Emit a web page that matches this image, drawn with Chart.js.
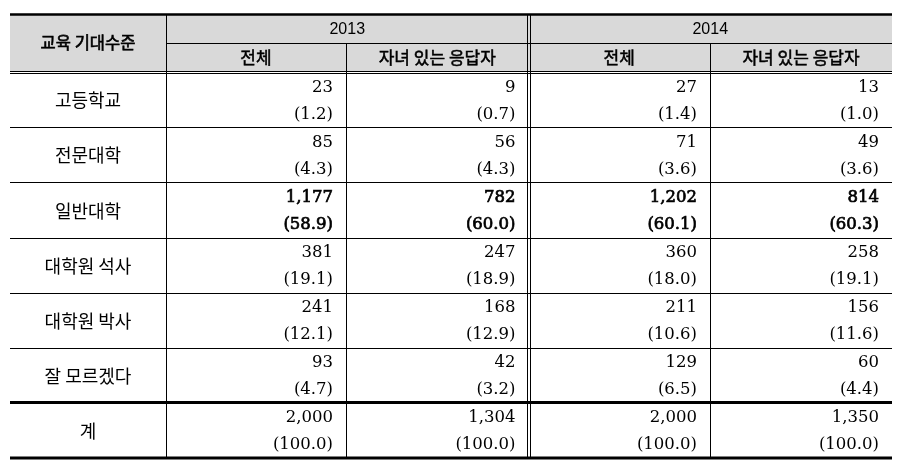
<!DOCTYPE html>
<html lang="ko">
<head>
<meta charset="utf-8">
<script src="https://cdn.jsdelivr.net/npm/chart.js@4"></script>
<style>
  html, body { margin: 0; padding: 0; background: #ffffff; }
  #wrap { width: 901px; height: 466px; }
</style>
</head>
<body>
<div id="wrap"><canvas id="chartTabla" width="901" height="466"></canvas></div>
<script>
// datos de la tabla
const levels = ["고등학교", "전문대학", "일반대학", "대학원 석사", "대학원 박사", "잘 모르겠다", "계"];
const years = ["2013", "2014"];
const groups = ["전체", "자녀 있는 응답자"];
const headerLabel = "교육 기대수준";

const count2013All = [23, 85, 1177, 381, 241, 93, 2000];
const pct2013All = [1.2, 4.3, 58.9, 19.1, 12.1, 4.7, 100.0];
const count2013Parents = [9, 56, 782, 247, 168, 42, 1304];
const pct2013Parents = [0.7, 4.3, 60.0, 18.9, 12.9, 3.2, 100.0];
const count2014All = [27, 71, 1202, 360, 211, 129, 2000];
const pct2014All = [1.4, 3.6, 60.1, 18.0, 10.6, 6.5, 100.0];
const count2014Parents = [13, 49, 814, 258, 156, 60, 1350];
const pct2014Parents = [1.0, 3.6, 60.3, 19.1, 11.6, 4.4, 100.0];

const boldRow = 2;

// layout (en unidades de la escala)
const colEdges = [10, 166, 346, 528.5, 710, 892];
const rowEdges = [14, 43, 72, 127, 182, 237.5, 292.5, 347.5, 402.5, 458];
const cellPad = 13;

const columns = [
    { counts: count2013All, pcts: pct2013All },
    { counts: count2013Parents, pcts: pct2013Parents },
    { counts: count2014All, pcts: pct2014All },
    { counts: count2014Parents, pcts: pct2014Parents },
];

const datasets = columns.map((col, c) => ({
    label: years[Math.floor(c / 2)] + " " + groups[c % 2],
    data: col.counts.map((n, i) => ({
        x: colEdges[c + 2] - cellPad,
        y: rowEdges[i + 2],
        count: n,
        pct: col.pcts[i],
    })),
    pointRadius: 0,
    showLine: false,
}));

const serif = '"DejaVu Serif", "Liberation Serif", serif';
const kor = '"Noto Sans CJK KR", "Noto Sans", sans-serif';

const tablePlugin = {
    id: "tablePlugin",
    afterDatasetsDraw(chart) {
        const ctx = chart.ctx;
        const xs = chart.scales.x;
        const ys = chart.scales.y;
        const px = (v) => xs.getPixelForValue(v);
        const py = (v) => ys.getPixelForValue(v);
        const left = px(colEdges[0]);
        const right = px(colEdges[5]);

        ctx.save();
        // fondo del encabezado
        ctx.fillStyle = "#d9d9d9";
        ctx.fillRect(left, py(rowEdges[0]), right - left, py(rowEdges[2]) - py(rowEdges[0]));

        const hline = (y, x1, x2, w) => {
            ctx.beginPath();
            ctx.lineWidth = w;
            ctx.strokeStyle = "#000";
            ctx.moveTo(x1, y);
            ctx.lineTo(x2, y);
            ctx.stroke();
        };
        const vline = (x, y1, y2, w) => {
            ctx.beginPath();
            ctx.lineWidth = w;
            ctx.strokeStyle = "#000";
            ctx.moveTo(x, y1);
            ctx.lineTo(x, y2);
            ctx.stroke();
        };
        // texto con trazo para simular seminegrita
        const heavyText = (txt, x, y, w) => {
            ctx.fillText(txt, x, y);
            if (w > 0) {
                ctx.lineWidth = w;
                ctx.strokeStyle = "#000";
                ctx.strokeText(txt, x, y);
            }
        };

        const top = py(rowEdges[0]);
        const bottom = py(rowEdges[9]);
        // lineas horizontales
        hline(top + 0.5, left, right, 2.5);
        hline(Math.round(py(rowEdges[1])) + 0.5, px(colEdges[1]), right, 1);
        hline(Math.round(py(rowEdges[2])) - 0.5, left, right, 1);
        hline(Math.round(py(rowEdges[2])) + 1.5, left, right, 1);
        for (let r = 3; r < 8; r++) {
            hline(Math.round(py(rowEdges[r])) + 0.5, left, right, 1);
        }
        hline(py(rowEdges[8]), left, right, 3);
        hline(bottom, left, right, 3);

        // lineas verticales
        vline(Math.round(px(colEdges[1])) + 0.5, top, bottom, 1);
        vline(Math.round(px(colEdges[2])) + 0.5, py(rowEdges[1]), bottom, 1);
        vline(Math.round(px(colEdges[4])) + 0.5, py(rowEdges[1]), bottom, 1);
        vline(Math.round(px(colEdges[3])) - 1.5, top, bottom, 1);
        vline(Math.round(px(colEdges[3])) + 1.5, top, bottom, 1);

        // encabezados
        ctx.fillStyle = "#000";
        ctx.textAlign = "center";
        ctx.textBaseline = "middle";
        ctx.font = "16.5px " + kor;
        heavyText(headerLabel, (px(colEdges[0]) + px(colEdges[1])) / 2, py(rowEdges[1]), 0.6);
        ctx.font = '16px "Liberation Sans", Arial, sans-serif';
        years.forEach((yr, k) => {
            const x1 = px(colEdges[1 + k * 2]);
            const x2 = px(colEdges[3 + k * 2]);
            ctx.fillText(yr, (x1 + x2) / 2, (py(rowEdges[0]) + py(rowEdges[1])) / 2 + 1);
        });
        ctx.font = "17px " + kor;
        for (let c = 0; c < 4; c++) {
            const x1 = px(colEdges[c + 1]);
            const x2 = px(colEdges[c + 2]);
            heavyText(groups[c % 2], (x1 + x2) / 2, (py(rowEdges[1]) + py(rowEdges[2])) / 2, 0.5);
        }

        // etiquetas de fila
        ctx.font = "18px " + kor;
        levels.forEach((lv, i) => {
            const y = (py(rowEdges[i + 2]) + py(rowEdges[i + 3])) / 2 + 1;
            ctx.fillText(lv, (px(colEdges[0]) + px(colEdges[1])) / 2, y);
        });

        // valores
        ctx.textAlign = "right";
        ctx.font = "16.5px " + serif;
        chart.data.datasets.forEach((ds, d) => {
            const meta = chart.getDatasetMeta(d);
            meta.data.forEach((pt, i) => {
                const raw = ds.data[i];
                const w = i === boldRow ? 0.7 : 0;
                heavyText(raw.count.toLocaleString("en-US"), pt.x, pt.y + 15.5, w);
                heavyText("(" + raw.pct.toFixed(1) + ")", pt.x, pt.y + 42.5, w);
            });
        });
        ctx.restore();
    },
};

const configTabla = {
    type: "scatter",
    data: { datasets: datasets },
    options: {
        responsive: false,
        animation: false,
        layout: { padding: 0 },
        plugins: {
            legend: { display: false },
            tooltip: { enabled: false },
        },
        scales: {
            x: { type: "linear", display: false, min: 0, max: 901 },
            y: { type: "linear", display: false, min: 0, max: 466, reverse: true },
        },
    },
    plugins: [tablePlugin],
};

const chartTabla = new Chart(document.getElementById("chartTabla"), configTabla);
</script>
</body>
</html>
